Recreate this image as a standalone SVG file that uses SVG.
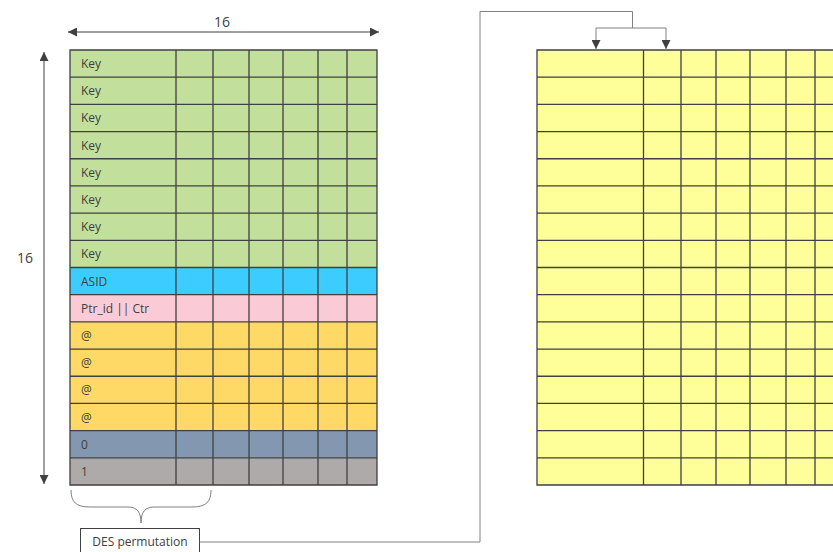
<svg xmlns="http://www.w3.org/2000/svg" width="833" height="552" viewBox="0 0 833 552">
<defs>
<marker id="ah" viewBox="0 0 10 10" refX="10" refY="5" markerWidth="9" markerHeight="9" markerUnits="userSpaceOnUse" orient="auto-start-reverse">
<path d="M0,0 L10,5 L0,10 Z" fill="#404040"/>
</marker>
<style>
.t{font-family:"Open Sans","Liberation Sans",sans-serif;font-size:12px;fill:#404040}
.d{font-family:"Open Sans","Liberation Sans",sans-serif;font-size:14px;fill:#404040;text-anchor:middle}
.grid{fill:none;stroke:#404040;stroke-width:1.3}
.conn{fill:none;stroke:#808080;stroke-width:1}
.dim{fill:none;stroke:#404040;stroke-width:1}
</style>
</defs>
<rect width="833" height="552" fill="#fff"/>
<g id="left-table">
<rect x="70" y="50" width="307" height="217.5" fill="#C2E09C"/>
<rect x="70" y="267.5" width="307" height="27.19" fill="#3DCCFF"/>
<rect x="70" y="294.69" width="307" height="27.19" fill="#FACBD6"/>
<rect x="70" y="321.88" width="307" height="108.75" fill="#FFD966"/>
<rect x="70" y="430.63" width="307" height="27.19" fill="#8497B0"/>
<rect x="70" y="457.81" width="307" height="27.19" fill="#AEAAAA"/>
<path class="grid" d="M70,50H377V485H70Z M176,50V485 M213,50V485 M249,50V485 M283,50V485 M318,50V485 M347,50V485 M70,77.19H377 M70,104.38H377 M70,131.56H377 M70,158.75H377 M70,185.94H377 M70,213.13H377 M70,240.31H377 M70,267.5H377 M70,294.69H377 M70,321.88H377 M70,349.06H377 M70,376.25H377 M70,403.44H377 M70,430.63H377 M70,457.81H377"/>
<text class="t" x="81" y="68">Key</text>
<text class="t" x="81" y="95.2">Key</text>
<text class="t" x="81" y="122.4">Key</text>
<text class="t" x="81" y="149.6">Key</text>
<text class="t" x="81" y="176.8">Key</text>
<text class="t" x="81" y="204">Key</text>
<text class="t" x="81" y="231.1">Key</text>
<text class="t" x="81" y="258.3">Key</text>
<text class="t" x="81" y="285.5">ASID</text>
<text class="t" x="81" y="312.7">Ptr_id || Ctr</text>
<text class="t" x="81" y="339.9">@</text>
<text class="t" x="81" y="367.1">@</text>
<text class="t" x="81" y="394.3">@</text>
<text class="t" x="81" y="421.5">@</text>
<text class="t" x="81" y="448.6">0</text>
<text class="t" x="81" y="475.8">1</text>
</g>
<g id="right-table">
<rect x="537" y="50" width="300" height="435" fill="#FFFF99"/>
<path class="grid" d="M840,50H537V485H840 M643.5,50V485 M681,50V485 M716,50V485 M750,50V485 M786,50V485 M815,50V485 M537,77.19H840 M537,104.38H840 M537,131.56H840 M537,158.75H840 M537,185.94H840 M537,213.13H840 M537,240.31H840 M537,267.5H840 M537,294.69H840 M537,321.88H840 M537,349.06H840 M537,376.25H840 M537,403.44H840 M537,430.63H840 M537,457.81H840"/>
</g>
<g id="dimensions">
<path class="dim" d="M68,32H379" marker-start="url(#ah)" marker-end="url(#ah)"/>
<text class="d" x="222" y="27">16</text>
<path class="dim" d="M44,52V484" marker-start="url(#ah)" marker-end="url(#ah)"/>
<text class="d" x="25" y="263">16</text>
</g>
<g id="brace">
<path fill="none" stroke="#808080" stroke-width="1" d="M71,490 C71,502 76,507 90,507 L128,507 C137,507 141,512 141,523 C141,512 145,507 154,507 L192,507 C206,507 211,502 211,490"/>
</g>
<g id="des-permutation">
<rect x="80.5" y="528.5" width="119" height="30" fill="#fff" stroke="#404040" stroke-width="1"/>
<text class="t" x="140" y="546" text-anchor="middle">DES permutation</text>
</g>
<g id="connectors">
<path class="conn" d="M199.5,542H480V11.5H632.5V28"/>
<path class="conn" d="M596,28H666"/>
<path class="conn" d="M596,28V49" marker-end="url(#ah)"/>
<path class="conn" d="M666,28V49" marker-end="url(#ah)"/>
</g>
</svg>
